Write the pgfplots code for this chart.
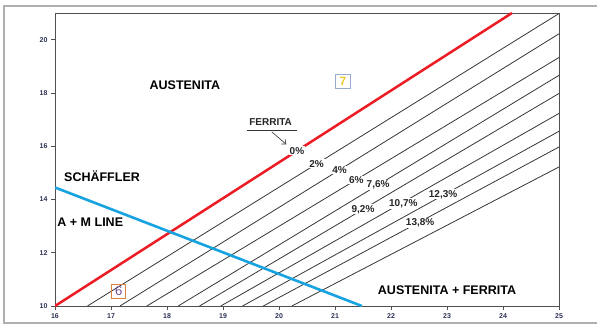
\documentclass[border=0pt]{standalone}
\usepackage{fontspec}
\setmainfont{Liberation Sans}
\usepackage{pgfplots}
\pgfplotsset{compat=1.18}
\usetikzlibrary{arrows.meta}

\definecolor{redline}{RGB}{236,28,36}
\definecolor{blueline}{RGB}{22,163,224}
\definecolor{isoline}{RGB}{55,55,55}
\definecolor{framegray}{RGB}{175,175,175}
\definecolor{axisgray}{RGB}{80,80,80}
\definecolor{ticktext}{RGB}{45,50,85}
\definecolor{boxblue}{RGB}{150,170,210}
\definecolor{boxorange}{RGB}{225,130,60}
\definecolor{sevenyellow}{RGB}{235,200,40}
\definecolor{sixpurple}{RGB}{120,80,150}

\begin{document}
\begin{tikzpicture}[x=1pt,y=1pt]
\useasboundingbox (0,0) rectangle (597,333);
\fill[white] (0,0) rectangle (597,333);
% outer chart frame
\draw[framegray, line width=1.2pt] (620,10) -- (4,10) -- (4,327) -- (620,327);
\begin{axis}[
  at={(55pt,27pt)}, anchor=south west, scale only axis,
  width=504pt, height=293pt,
  xmin=16, xmax=25, ymin=10, ymax=21,
  xtick={16,...,25}, ytick={10,12,...,20},
  tick align=outside, tick pos=left, major tick length=4pt,
  axis line style={axisgray, line width=0.9pt},
  every tick/.style={axisgray, line width=0.6pt},
  tick label style={font=\fontsize{7}{7}\selectfont\bfseries, text=ticktext},
  /pgf/number format/assume math mode=true,
  every axis plot/.append style={no marks},
]
% iso-ferrite lines
\addplot[isoline, line width=0.8pt] coordinates {(16.58,10) (25,20.98)};
\addplot[isoline, line width=0.8pt] coordinates {(17.16,10) (25,20.22)};
\addplot[isoline, line width=0.8pt] coordinates {(17.64,10) (25,19.33)};
\addplot[isoline, line width=0.8pt] coordinates {(18.20,10) (25,18.66)};
\addplot[isoline, line width=0.8pt] coordinates {(18.58,10) (25,17.98)};
\addplot[isoline, line width=0.8pt] coordinates {(18.96,10) (25,17.23)};
\addplot[isoline, line width=0.8pt] coordinates {(19.35,10) (25,16.56)};
\addplot[isoline, line width=0.8pt] coordinates {(19.72,10) (25,15.97)};
\addplot[isoline, line width=0.8pt] coordinates {(20.23,10) (25,15.22)};
% 0% ferrite boundary
\addplot[redline, line width=2.5pt] coordinates {(16,10) (24.16,21)};
% A + M line
\addplot[blueline, line width=2.6pt] coordinates {(16,14.45) (21.48,10)};

% ferrite percentages
\begin{scope}[every node/.style={fill=white, inner sep=0.8pt, text=black!85,
    font=\fontsize{10}{11}\selectfont\bfseries}]
\node at (axis cs:20.32,15.83) {0\%};
\node at (axis cs:20.67,15.34) {2\%};
\node at (axis cs:21.08,15.11) {4\%};
\node at (axis cs:21.38,14.73) {6\%};
\node at (axis cs:21.77,14.55) {7,6\%};
\node at (axis cs:21.50,13.63) {9,2\%};
\node at (axis cs:22.22,13.85) {10,7\%};
\node at (axis cs:22.93,14.19) {12,3\%};
\node at (axis cs:22.52,13.13) {13,8\%};
\end{scope}

% region names
\begin{scope}[every node/.style={font=\fontsize{12.5}{13}\selectfont\bfseries, text=black}]
\node at (axis cs:18.32,18.28) {AUSTENITA};
\node at (axis cs:23.00,10.60) {AUSTENITA + FERRITA};
\node at (axis cs:16.84,14.87) {SCHÄFFLER};
\node at (axis cs:16.63,13.15) {A + M LINE};
\end{scope}

% ferrite callout
\node[font=\fontsize{10}{11}\selectfont\bfseries, text=black!85] at (axis cs:19.85,16.91) {FERRITA};
\draw[black!80, line width=0.6pt] (axis cs:19.42,16.60) -- (axis cs:20.315,16.60);
\draw[black!80, line width=0.6pt, -{Straight Barb[length=3.5pt,width=6pt]}]
  (axis cs:19.87,16.54) -- (axis cs:20.13,16.07);

% numbered markers
\node[draw=boxblue, line width=0.9pt, minimum width=15pt, minimum height=14pt, inner sep=0pt,
  font=\fontsize{12}{12}\selectfont\bfseries, text=sevenyellow] at (axis cs:21.14,18.44) {7};
\node[draw=boxorange, line width=0.9pt, minimum width=14pt, minimum height=14pt, inner sep=0pt,
  font=\fontsize{13}{13}\selectfont, text=sixpurple] at (axis cs:17.14,10.55) {6};
\end{axis}
\end{tikzpicture}
\end{document}
